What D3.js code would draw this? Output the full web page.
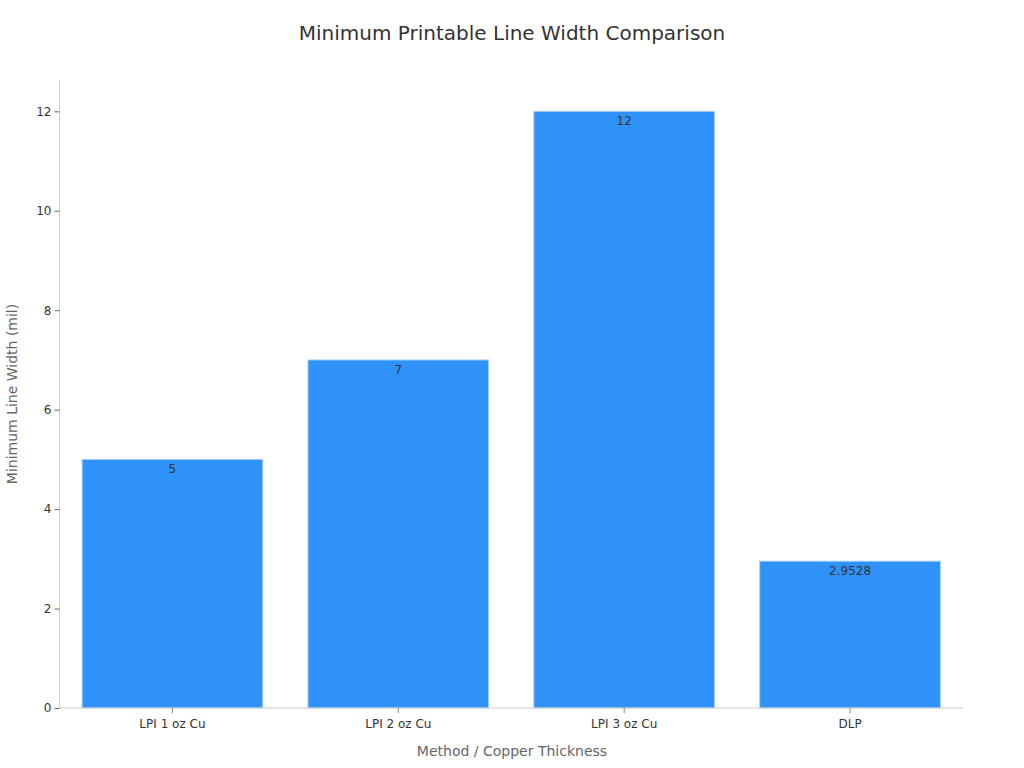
<!DOCTYPE html>
<html><head><meta charset="utf-8">
<script src="https://cdn.jsdelivr.net/npm/d3@7"></script>
<style>body{margin:0;background:#fff;} text{font-family:"DejaVu Sans",sans-serif;}</style>
</head><body>
<svg id="c" width="1024" height="768"></svg>
<script>
const categories = ["LPI 1 oz Cu", "LPI 2 oz Cu", "LPI 3 oz Cu", "DLP"];
const values = [5, 7, 12, 2.9528];
const valueLabels = ["5", "7", "12", "2.9528"];
const yTicks = [0, 2, 4, 6, 8, 10, 12];
const title = "Minimum Printable Line Width Comparison";
const xTitle = "Method / Copper Thickness";
const yTitle = "Minimum Line Width (mil)";

const svg = d3.select("#c");
const m = {l: 59.5, r: 963, t: 80, b: 708};
const x = d3.scaleBand().domain(categories).range([m.l, m.r]).paddingInner(0.2).paddingOuter(0.1);
const y = d3.scaleLinear().domain([0, 12.63]).range([m.b, m.t]);

svg.append("text").attr("x", 512).attr("y", 40).attr("text-anchor", "middle")
  .attr("font-size", 20).attr("fill", "#333").text(title);

svg.selectAll("rect.bar").data(values).enter().append("rect").attr("class", "bar")
  .attr("x", (d, i) => x(categories[i])).attr("width", x.bandwidth())
  .attr("y", d => y(d)).attr("height", d => y(0) - y(d))
  .attr("fill", "#2f92f8").attr("stroke", "#a9d0fb").attr("stroke-width", 1);

svg.selectAll("text.vl").data(values).enter().append("text").attr("class", "vl")
  .attr("x", (d, i) => x(categories[i]) + x.bandwidth() / 2).attr("y", d => y(d) + 14)
  .attr("text-anchor", "middle").attr("font-size", 12).attr("fill", "#333")
  .text((d, i) => valueLabels[i]);

const ya = svg.append("g").attr("transform", `translate(${m.l},0)`)
  .call(d3.axisLeft(y).tickValues(yTicks).tickSize(5).tickPadding(3).tickFormat(d3.format("d")));
ya.attr("font-family", null);
ya.select(".domain").attr("stroke", "#ccc").attr("d", `M0,${m.t}V${m.b}`);
ya.selectAll(".tick line").attr("stroke", "#666");
ya.selectAll(".tick text").attr("font-size", 12).attr("fill", "#333");

const xa = svg.append("g").attr("transform", `translate(0,${m.b})`)
  .call(d3.axisBottom(x).tickSize(5).tickPadding(6));
xa.attr("font-family", null);
xa.select(".domain").attr("stroke", "#ccc").attr("d", `M${m.l},0H${m.r}`);
xa.selectAll(".tick line").attr("stroke", "#888");
xa.selectAll(".tick text").attr("font-size", 12).attr("fill", "#333");

svg.append("text").attr("x", 512).attr("y", 756).attr("text-anchor", "middle")
  .attr("font-size", 14).attr("fill", "#666").text(xTitle);
svg.append("text").attr("transform", "translate(17,394) rotate(-90)").attr("text-anchor", "middle")
  .attr("font-size", 14).attr("fill", "#666").text(yTitle);
</script>
</body></html>
